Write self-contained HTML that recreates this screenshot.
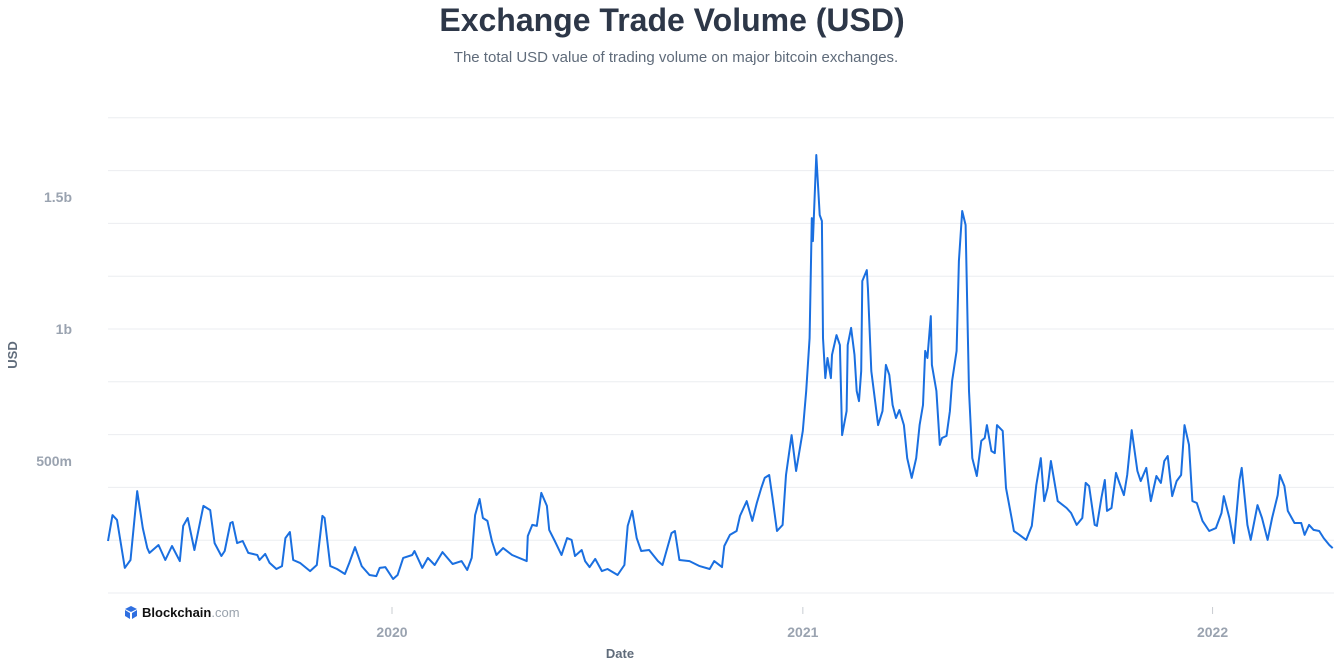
<!DOCTYPE html>
<html><head><meta charset="utf-8"><style>
body{margin:0;background:#fff;width:1344px;height:662px;overflow:hidden;font-family:"Liberation Sans",sans-serif}
svg{display:block}
</style></head><body>
<svg id="chart" width="1344" height="662">
<text x="672" y="31" text-anchor="middle" font-size="32" font-weight="bold" fill="#2d3748">Exchange Trade Volume (USD)</text>
<text x="676" y="62" text-anchor="middle" font-size="15" fill="#5f6b7a">The total USD value of trading volume on major bitcoin exchanges.</text>
<g id="grid"></g>
<g id="yaxis"></g>
<g id="xaxis"></g>
<text transform="translate(17,355) rotate(-90)" text-anchor="middle" font-size="13" font-weight="bold" fill="#5f6b7a">USD</text>
<text x="620" y="658" text-anchor="middle" font-size="13" font-weight="bold" fill="#5f6b7a">Date</text>
<g>
<path d="M131 606 l6 3 -6 3 -6 -3z M125 610 l5 3 v6 l-5 -3z M137 610 v6 l-5 3 v-6z" fill="#2f6fe0"/>
<text x="142" y="617" font-size="13" font-weight="bold" fill="#111">Blockchain<tspan fill="#9aa3ad" font-weight="normal">.com</tspan></text>
</g>
<path id="line" fill="none" stroke="#1a6fe0" stroke-width="2" stroke-linejoin="round"/>
</svg>
<script>
// days since 2019-04-23
const days=[0,4,8,15,20,26,31,35,37,45,51,57,64,67,71,77,85,91,95,101,104,109,111,115,120,125,133,135,140,144,150,155,158,162,165,171,180,186,191,193,198,204,211,215,220,226,233,239,242,247,254,258,263,271,273,280,285,291,298,307,315,320,324,327,331,334,338,342,346,352,360,373,374,378,382,386,391,393,398,404,409,413,416,422,425,429,434,440,445,454,460,463,467,471,475,482,490,494,502,505,509,518,527,536,540,547,549,554,560,563,569,574,578,582,585,589,592,596,601,604,609,613,619,622,625,627,628,631,634,636,637,639,641,644,645,649,652,654,658,659,662,665,667,669,671,672,676,677,680,683,686,690,693,696,699,702,705,709,712,716,720,723,726,728,730,733,734,738,741,743,747,750,752,756,758,761,764,766,767,770,774,778,781,783,787,790,792,797,800,805,807,812,818,823,827,831,834,837,840,846,854,858,863,868,871,874,879,881,885,888,890,894,898,901,905,908,912,917,920,925,929,934,938,941,944,948,952,956,959,963,966,970,975,981,987,992,994,999,1003,1008,1010,1015,1018,1024,1028,1033,1037,1042,1044,1048,1051,1057,1063,1066,1070,1074,1079,1083,1088,1091];
// volume in millions USD
const volumes=[197,295,277,95,125,386,246,170,152,182,125,178,121,254,284,163,330,314,189,140,159,265,269,189,197,152,144,125,148,114,91,102,208,231,125,114,83,106,292,284,102,91,72,114,174,102,68,64,95,98,53,68,133,144,159,95,133,106,155,110,121,87,133,295,356,284,273,197,144,170,144,121,216,258,254,379,330,239,197,144,208,201,140,163,121,98,129,83,91,68,106,254,311,208,159,163,121,106,227,235,125,121,102,91,121,98,178,220,235,292,348,273,341,398,436,447,360,235,258,447,598,462,614,765,966,1420,1333,1659,1432,1409,966,814,890,814,902,977,939,598,689,939,1004,902,765,727,841,1182,1223,1155,841,739,636,689,864,826,712,663,693,636,511,436,511,636,712,917,890,1049,864,765,561,587,595,689,803,917,1258,1447,1394,966,765,511,443,576,587,636,538,530,636,614,398,284,235,220,201,254,409,511,348,398,500,348,322,303,258,284,417,405,258,254,360,428,311,322,455,417,371,447,617,462,424,474,348,443,417,500,519,367,424,447,636,561,348,341,273,235,246,303,367,284,189,428,474,258,201,333,284,201,284,371,447,405,311,265,265,220,258,239,235,208,182,170];
const yTicks=[500,1000,1500];
const yTickLabels=["500m","1b","1.5b"];
const xTickYears=[2020,2021,2022];

const NS="http://www.w3.org/2000/svg";
const startMs=Date.UTC(2019,3,23);
const pxPerDay=410/365.25;
const x0=Date.UTC(2020,0,1);
function xScale(d){return 392+((startMs+d*86400000)-x0)/86400000*pxPerDay;}
function xYear(y){return 392+(Date.UTC(y,0,1)-x0)/86400000*pxPerDay;}
function yScale(v){return 593-v*0.264;}
function mk(tag,attrs,parent){const e=document.createElementNS(NS,tag);for(const k in attrs)e.setAttribute(k,attrs[k]);parent.appendChild(e);return e;}

const grid=document.getElementById('grid');
for(let v=0;v<=1800;v+=200){
  const l=mk('line',{x1:108,x2:1334,y1:yScale(v),y2:yScale(v),stroke:'#ebedf0','stroke-width':1},grid);
  
  
}
const ya=document.getElementById('yaxis');
yTicks.forEach((v,i)=>{
  const t=mk('text',{x:72,y:yScale(v)+5,'text-anchor':'end','font-size':14,'font-weight':'bold',fill:'#9aa3b0'},ya);
  t.textContent=yTickLabels[i];
  
  
});
const xa=document.getElementById('xaxis');
xTickYears.forEach(y=>{
  const x=xYear(y);
  const tk=mk('line',{x1:x,x2:x,y1:607,y2:614,stroke:'#c8ccd2','stroke-width':1},xa);
  
  
  const t=mk('text',{x:x,y:637,'text-anchor':'middle','font-size':14,'font-weight':'bold',fill:'#9aa3b0'},xa);
  t.textContent=String(y);
  
  
});
let d='';
days.forEach((dd,i)=>{d+=(i?'L':'M')+Math.max(108,xScale(dd)).toFixed(1)+' '+yScale(volumes[i]).toFixed(1);});
document.getElementById('line').setAttribute('d',d);
</script>
</body></html>
